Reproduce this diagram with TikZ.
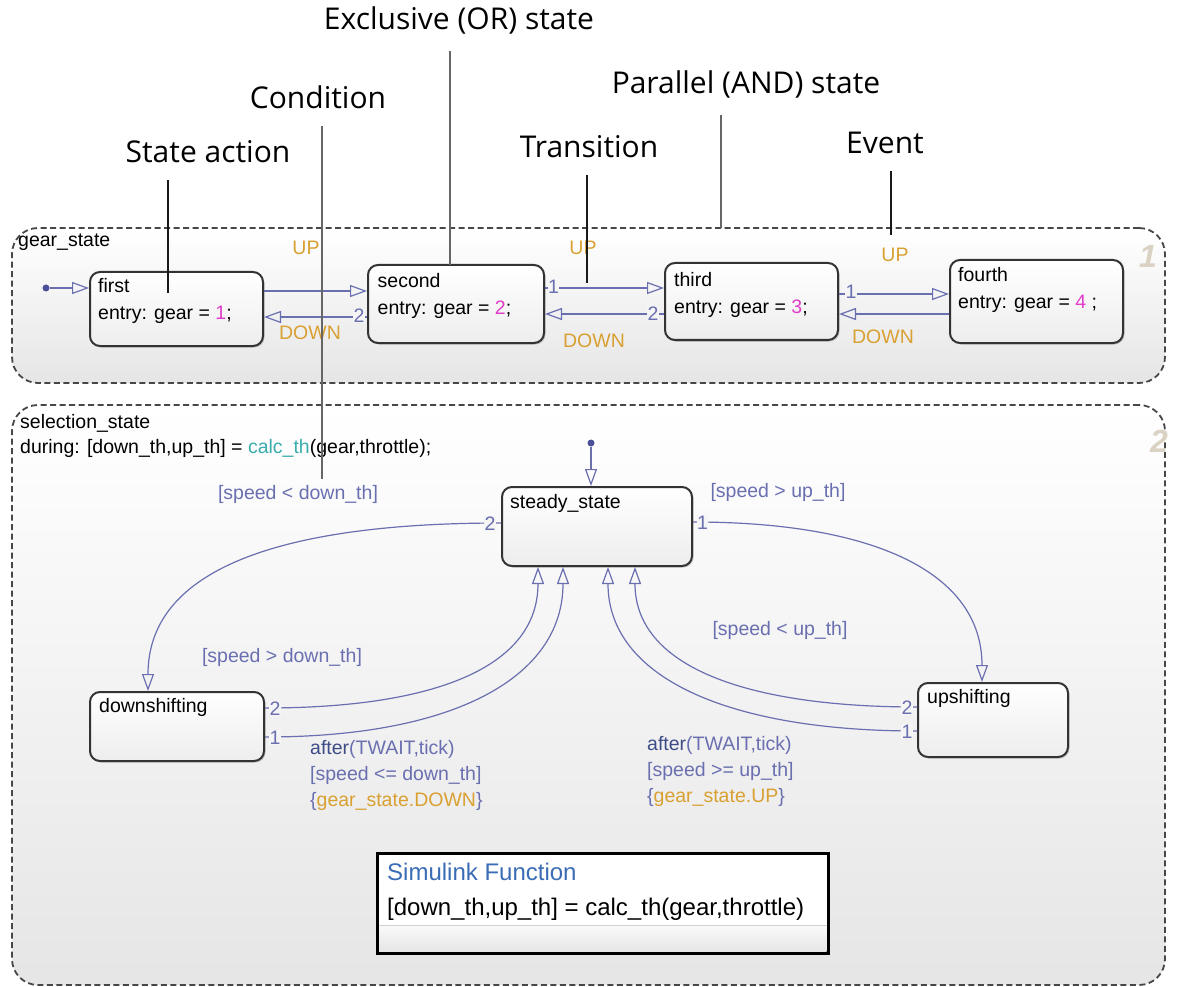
\documentclass[tikz,border=0pt]{standalone}
\usepackage{fontspec}
\setmainfont{Liberation Sans}
\newfontfamily\notefont{Open Sans}
\usepackage{xcolor}
\usetikzlibrary{arrows.meta, shadows, positioning}
\definecolor{transblue}{HTML}{6A6FB0}
\definecolor{initblue}{HTML}{4A4F98}
\definecolor{afterblue}{HTML}{3E4C86}
\definecolor{eventorange}{HTML}{D9A032}
\definecolor{valmagenta}{HTML}{E03CC8}
\definecolor{functeal}{HTML}{3AACAC}
\definecolor{simblue}{HTML}{3A6DB5}
\definecolor{tagtan}{HTML}{DAD2C2}

\begin{document}
\begin{tikzpicture}[x=1pt, y=1pt, font=\fontsize{19.5}{27}\selectfont,
  chart/.style={draw=black!72, line width=1.8pt, dash pattern=on 6pt off 3.5pt, rounded corners=26pt, top color=white, bottom color=black!10, minimum width=1153pt},
  statebox/.style={draw=black!80, line width=2pt, rounded corners=10pt, top color=white, bottom color=black!7, drop shadow={shadow xshift=1.5pt, shadow yshift=-1.5pt, opacity=0.4}},
  simbox/.style={draw=black, line width=3pt, outer sep=0, fill=white, minimum width=451pt, minimum height=100pt, drop shadow={shadow xshift=1.5pt, shadow yshift=-1.5pt, opacity=0.35}},
  statetext/.style={anchor=north west, inner sep=0, align=left},
  plain/.style={anchor=base west, inner sep=0},
  trans/.style={draw=transblue, line width=1.2pt, -{Triangle[open, length=17pt, width=12pt]}},
  tnum/.style={text=transblue, fill=black!4, inner sep=0.5pt, anchor=base},
  guard/.style={text=transblue, inner sep=0, anchor=base},
  evt/.style={text=eventorange, inner sep=0, anchor=base},
  initdot/.style={circle, fill=initblue, inner sep=0, minimum size=7pt},
  tag/.style={text=tagtan, font=\fontsize{32}{32}\selectfont\bfseries\itshape, inner sep=0, anchor=base},
  note/.style={font=\notefont\fontsize{30}{30}\selectfont, inner xsep=0, inner ysep=17pt},
  callout/.style={line width=1.5pt, black!90},
  calloutgray/.style={line width=2pt, black!60}]
\useasboundingbox (0,0) rectangle (1179,-987);

\node[chart, minimum height=155pt] (gearstate) at (588.5,-305.5) {};
\node[chart, minimum height=580pt] (selstate) at (588.5,-695) {};
\node[plain] (gearname) at (18,-247) {gear\_state};
\node[tag] (gearno) at (1148,-268) {1};
\node[plain] (selname) at (20,-428) {selection\_state};
\node[plain] (selduring) at (20,-453) {during: [down\_th,up\_th] = {\color{functeal}calc\_th}(gear,throttle);};
\node[tag] (selno) at (1159,-452) {2};

\node[statebox, minimum width=173pt, minimum height=74pt] (first) at (176.5,-309) {};
\node[statebox, minimum width=176pt, minimum height=78pt] (second) at (456,-304) {};
\node[statebox, minimum width=173pt, minimum height=77pt] (third) at (751.5,-301.5) {};
\node[statebox, minimum width=173pt, minimum height=83pt] (fourth) at (1036.5,-301.5) {};
\node[statetext] (firsttext) at (98,-278) {first\\entry: gear = {\color{valmagenta}1};};
\node[statetext] (secondtext) at (377.5,-273) {second\\entry: gear = {\color{valmagenta}2};};
\node[statetext] (thirdtext) at (674,-272) {third\\entry: gear = {\color{valmagenta}3};};
\node[statetext] (fourthtext) at (958,-267) {fourth\\entry: gear = {\color{valmagenta}4} ;};

\node[initdot] (gearinit) at (46,-288) {};
\draw[trans] (gearinit) -- (gearinit -| first.west);
\draw[trans] ([yshift=18pt]first.east) -- ([yshift=18pt]first.east -| second.west);
\draw[trans] ([yshift=-13pt]second.west) -- ([yshift=-13pt]second.west -| first.east);
\draw[trans] ([yshift=16pt]second.east) -- ([yshift=16pt]second.east -| third.west);
\draw[trans] ([yshift=-12.5pt]third.west) -- ([yshift=-12.5pt]third.west -| second.east);
\draw[trans] ([yshift=7.5pt]third.east) -- ([yshift=7.5pt]third.east -| fourth.west);
\draw[trans] ([yshift=-12.5pt]fourth.west) -- ([yshift=-12.5pt]fourth.west -| third.east);
\node[tnum] (num21) at (359,-323) {2};
\node[tnum] (num23) at (553.5,-294) {1};
\node[tnum] (num32) at (653,-320) {2};
\node[tnum] (num34) at (851,-299) {1};
\node[evt] (up12) at (306,-255) {UP};
\node[evt] (down21) at (310,-339) {DOWN};
\node[evt] (up23) at (583,-255) {UP};
\node[evt] (down32) at (594,-348) {DOWN};
\node[evt] (up34) at (895,-262) {UP};
\node[evt] (down43) at (883,-343) {DOWN};

\node[statebox, minimum width=190pt, minimum height=79pt] (steady) at (597,-526.5) {};
\node[statebox, minimum width=174pt, minimum height=69pt] (downshift) at (177,-726.5) {};
\node[statebox, minimum width=150pt, minimum height=74pt] (upshift) at (993,-720) {};
\node[plain] (steadytext) at (510,-508) {steady\_state};
\node[plain] (downtext) at (99,-712) {downshifting};
\node[plain] (uptext) at (927,-703) {upshifting};

\node[initdot] (steadyinit) at (591,-443) {};
\draw[trans] (steadyinit) -- (steadyinit |- steady.north);
\draw[trans] ([yshift=3.5pt]steady.west) .. controls +(-200,0) and +(0,130) .. ([xshift=-29pt]downshift.north);
\draw[trans] ([yshift=4.5pt]steady.east) .. controls +(180,0) and +(0,110) .. ([xshift=-11pt]upshift.north);
\draw[trans] ([yshift=18.5pt]downshift.east) .. controls +(170,0) and +(0,-100) .. ([xshift=-59pt]steady.south);
\draw[trans] ([yshift=-10.5pt]downshift.east) .. controls +(190,0) and +(0,-110) .. ([xshift=-34pt]steady.south);
\draw[trans] ([yshift=13pt]upshift.west) .. controls +(-170,0) and +(0,-100) .. ([xshift=38pt]steady.south);
\draw[trans] ([yshift=-11pt]upshift.west) .. controls +(-190,0) and +(0,-110) .. ([xshift=11pt]steady.south);
\node[tnum] (numsd) at (490,-530) {2};
\node[tnum] (numsu) at (702.5,-529) {1};
\node[tnum] (numds2) at (275,-715) {2};
\node[tnum] (numds1) at (275,-744) {1};
\node[tnum] (numus2) at (907,-714) {2};
\node[tnum] (numus1) at (907,-738) {1};
\node[guard] (gsd) at (298,-499) {[speed < down\_th]};
\node[guard] (gsu) at (778,-497) {[speed > up\_th]};
\node[guard] (gds) at (282,-662) {[speed > down\_th]};
\node[guard] (gus) at (780,-635) {[speed < up\_th]};
\node[statetext, text=transblue, font=\fontsize{19.5}{26}\selectfont] (actds) at (310,-740) {{\color{afterblue}after}(TWAIT,tick)\\{}[speed <= down\_th]\\\{{\color{eventorange}gear\_state.DOWN}\}};
\node[statetext, text=transblue, font=\fontsize{19.5}{26}\selectfont] (actus) at (647,-736) {{\color{afterblue}after}(TWAIT,tick)\\{}[speed >= up\_th]\\\{{\color{eventorange}gear\_state.UP}\}};

\node[simbox] (simfun) at (602.5,-903) {};
\fill[top color=black!2, bottom color=black!10] ([shift={(1.5pt,1.5pt)}]simfun.south west) rectangle ([shift={(-1.5pt,28pt)}]simfun.south east);
\draw[black!18, line width=1pt] ([shift={(1.5pt,28pt)}]simfun.south west) -- ([shift={(-1.5pt,28pt)}]simfun.south east);
\draw[black, line width=3pt] (simfun.south west) rectangle (simfun.north east);
\node[plain, text=simblue, font=\fontsize{24}{28}\selectfont] (simname) at (387,-880) {Simulink Function};
\node[plain, font=\fontsize{24}{28}\selectfont] (simsig) at (387,-915) {[down\_th,up\_th] = calc\_th(gear,throttle)};

\node[note] (notexor) at (459,-20) {Exclusive (OR) state};
\node[note] (notecond) at (318,-97) {Condition};
\node[note] (noteand) at (746,-84) {Parallel (AND) state};
\node[note] (noteaction) at (208,-152) {State action};
\node[note] (notetrans) at (589,-147) {Transition};
\node[note] (noteevent) at (885,-143) {Event};
\coordinate (tipaction) at (168,-293);
\coordinate (tipcond) at (322,-479);
\coordinate (tipxor) at (450,-265);
\coordinate (tiptrans) at (587,-283);
\coordinate (tipand) at (721,-228);
\coordinate (tipevent) at (891,-235);
\draw[callout] (noteaction.south -| tipaction) -- (tipaction);
\draw[calloutgray] (notecond.south -| tipcond) -- (tipcond);
\draw[calloutgray] (notexor.south -| tipxor) -- (tipxor);
\draw[callout] (notetrans.south -| tiptrans) -- (tiptrans);
\draw[calloutgray] (noteand.south -| tipand) -- (tipand);
\draw[callout] (noteevent.south -| tipevent) -- (tipevent);
\end{tikzpicture}
\end{document}
